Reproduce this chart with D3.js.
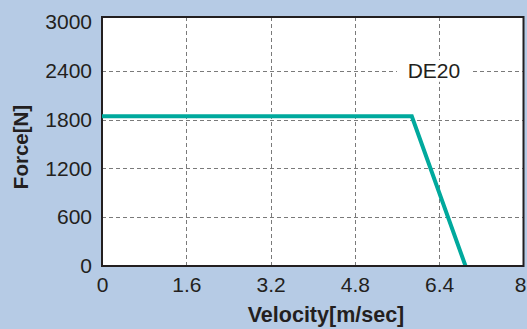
<!DOCTYPE html>
<html><head><meta charset="utf-8">
<script src="https://cdn.jsdelivr.net/npm/d3@7"></script>
<style>
html,body{margin:0;padding:0;background:#b6cbe5;}
svg{display:block;}
text{font-family:"Liberation Sans",Arial,Helvetica,sans-serif;fill:#231f20;}
</style></head>
<body>
<script>
const velocity = [0, 5.88, 6.9];
const force = [1840, 1840, 0];
const xTicks = [0, 1.6, 3.2, 4.8, 6.4, 8];
const yTicks = [0, 600, 1200, 1800, 2400, 3000];
const seriesName = "DE20";
const xTitle = "Velocity[m/sec]";
const yTitle = "Force[N]";

const W = 527, H = 329;
const svg = d3.select("body").append("svg").attr("width", W).attr("height", H);
svg.append("rect").attr("width", W).attr("height", H).attr("fill", "#b6cbe5");

const x = d3.scaleLinear().domain([0, 8]).range([102, 523.5]);
const y = d3.scaleLinear().domain([0, 3000]).range([266, 22]);
const frameTop = 17;

// plot area
svg.append("rect").attr("x", x(0)).attr("y", frameTop)
  .attr("width", x(8) - x(0)).attr("height", y(0) - frameTop)
  .attr("fill", "#fff");

// grid
const grid = svg.append("g").attr("stroke", "#7a7a7a").attr("stroke-width", 1)
  .attr("stroke-dasharray", "4,3").attr("fill", "none");
xTicks.filter(v => v > 0 && v < 8).forEach(v => {
  grid.append("line").attr("x1", Math.round(x(v)) + 0.5).attr("x2", Math.round(x(v)) + 0.5)
    .attr("y1", frameTop).attr("y2", y(0));
});
yTicks.filter(v => v > 0 && v < 3000).forEach(v => {
  grid.append("line").attr("y1", Math.round(y(v)) + 0.5).attr("y2", Math.round(y(v)) + 0.5)
    .attr("x1", x(0)).attr("x2", x(8));
});

// series label with white background
const lx = x(6.3), ly = y(2400);
svg.append("rect").attr("x", lx - 37).attr("y", ly - 11).attr("width", 74).attr("height", 22).attr("fill", "#fff");
svg.append("text").attr("x", lx).attr("y", ly).attr("text-anchor", "middle")
  .attr("dominant-baseline", "central").attr("font-size", 21).text(seriesName);

// frame
svg.append("rect").attr("x", x(0)).attr("y", frameTop)
  .attr("width", x(8) - x(0)).attr("height", y(0) - frameTop)
  .attr("fill", "none").attr("stroke", "#231f20").attr("stroke-width", 2);

// line
const pts = velocity.map((v, i) => [v, force[i]]);
svg.append("clipPath").attr("id", "clip").append("rect")
  .attr("x", x(0)).attr("y", frameTop).attr("width", x(8) - x(0)).attr("height", y(0) - frameTop - 1);
svg.append("path").datum(pts)
  .attr("clip-path", "url(#clip)")
  .attr("d", d3.line().x(d => x(d[0])).y(d => y(d[1])))
  .attr("fill", "none").attr("stroke", "#00a99d").attr("stroke-width", 4)
  .attr("stroke-linejoin", "miter");

// axes (labels only)
const yAxis = d3.axisLeft(y).tickValues(yTicks).tickSize(0).tickPadding(10).tickFormat(d3.format("d"));
const gy = svg.append("g").attr("transform", `translate(${x(0)},0)`).call(yAxis);
gy.select(".domain").remove();
gy.selectAll("text").attr("font-size", 21).attr("fill", "#231f20")
  .style("font-family", '"Liberation Sans",Arial,sans-serif');

const xAxis = d3.axisBottom(x).tickValues(xTicks).tickSize(0).tickPadding(11).tickFormat(d => d);
const gx = svg.append("g").attr("transform", `translate(0,${y(0)})`).call(xAxis);
gx.select(".domain").remove();
gx.selectAll("text").attr("font-size", 21).attr("fill", "#231f20")
  .style("font-family", '"Liberation Sans",Arial,sans-serif')
  .attr("dx", d => d === 8 ? -3.5 : 0);

// titles
svg.append("text").attr("x", 326).attr("y", 322).attr("text-anchor", "middle")
  .attr("font-size", 21.5).attr("font-weight", "bold").text(xTitle);
svg.append("text").attr("transform", `translate(28,147) rotate(-90)`).attr("text-anchor", "middle")
  .attr("font-size", 20.5).attr("font-weight", "bold").text(yTitle);
</script>
</body></html>
